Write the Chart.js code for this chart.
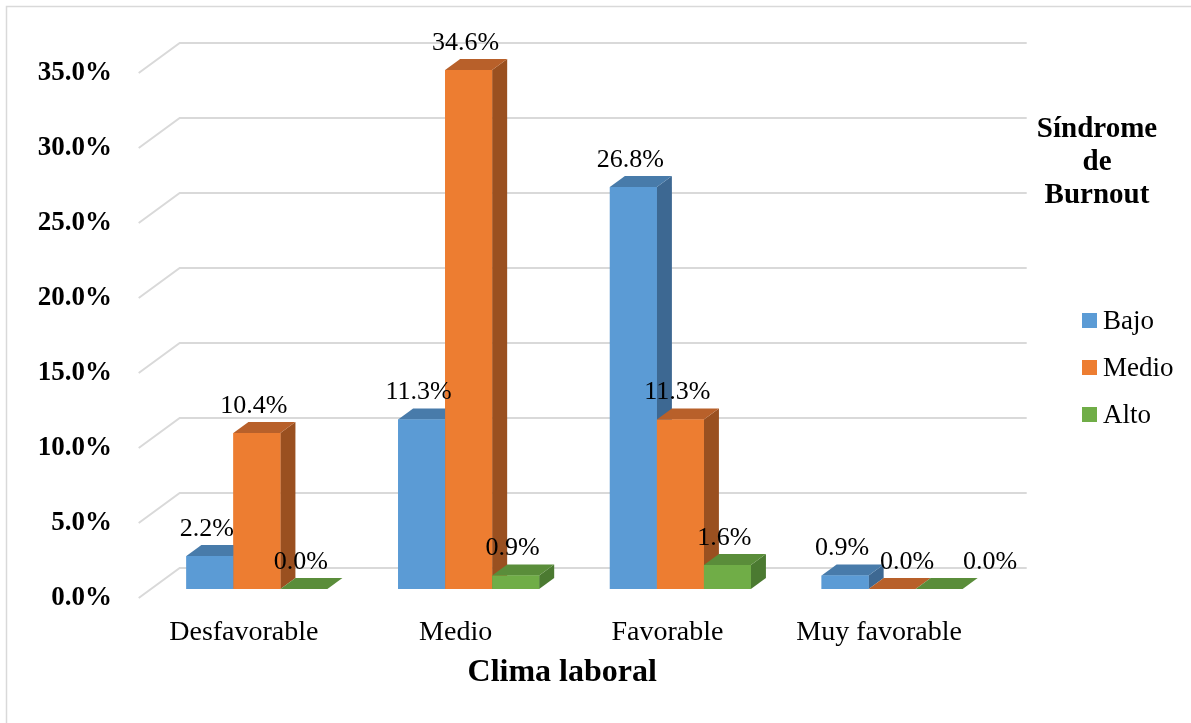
<!DOCTYPE html>
<html>
<head>
<meta charset="utf-8">
<title>Clima laboral y Síndrome de Burnout</title>
<script src="https://cdn.jsdelivr.net/npm/chart.js@4"></script>
<style>
  html, body { margin: 0; padding: 0; background: #ffffff; }
  #wrap { width: 1191px; height: 723px; position: relative; }
</style>
</head>
<body>
<div id="wrap"><canvas id="c" width="1191" height="723"></canvas></div>
<script>
// ---- data ----
const categories = ['Desfavorable', 'Medio', 'Favorable', 'Muy favorable'];
const seriesNames = ['Bajo', 'Medio', 'Alto'];
const bajo  = [2.2, 11.3, 26.8, 0.9];
const medio = [10.4, 34.6, 11.3, 0.0];
const alto  = [0.0, 0.9, 1.6, 0.0];
const yTicks = [0, 5, 10, 15, 20, 25, 30, 35];
const xTitle = 'Clima laboral';
const legendTitle = ['Síndrome', 'de', 'Burnout'];

// ---- style ----
const SERIF = '"Liberation Serif", "Times New Roman", serif';
const faceColors = [
  { front: '#5B9BD5', top: '#487BAA', side: '#3D6892' },
  { front: '#ED7D31', top: '#B8602A', side: '#9A5020' },
  { front: '#70AD47', top: '#5A8D3A', side: '#4B7A31' }
];
const SLOPE = 41 / 30;       // horizontal shift per pixel of depth
const FRONT_DEPTH = 9;       // floor edge in front of the bars
const BAR_DEPTH = 11;        // depth of each bar
const BACK_DEPTH = 21;       // back wall behind the bar fronts
const GRID_COLOR = '#D9D9D9';
const LABEL_RISE = 27;
const LABEL_SHIFT = -3;
const labelNudge = { '3|1': 18, '3|2': 54 };

const seriesValues = [bajo, medio, alto];

const depthPlugin = {
  id: 'depth3d',
  beforeDatasetsDraw(chart) {
    const { ctx, chartArea, scales } = chart;
    const ys = scales.y;
    ctx.save();
    // outer frame
    ctx.strokeStyle = GRID_COLOR;
    ctx.lineWidth = 1.5;
    ctx.beginPath();
    ctx.moveTo(6.5, 723);
    ctx.lineTo(6.5, 6.5);
    ctx.lineTo(1191, 6.5);
    ctx.stroke();
    // gridlines: floor edge -> back wall -> across
    ctx.lineWidth = 2;
    ctx.strokeStyle = GRID_COLOR;
    yTicks.forEach(v => {
      const py = ys.getPixelForValue(v);
      const fx = chartArea.left - FRONT_DEPTH * SLOPE;
      const fy = py + FRONT_DEPTH;
      const bx = chartArea.left + BACK_DEPTH * SLOPE;
      const by = py - BACK_DEPTH;
      const ex = chartArea.right + BACK_DEPTH * SLOPE;
      ctx.beginPath();
      ctx.moveTo(fx, fy);
      ctx.lineTo(bx, by);
      ctx.lineTo(ex, by);
      ctx.stroke();
    });
    ctx.restore();
  },
  afterDatasetsDraw(chart) {
    const { ctx, chartArea } = chart;
    const dx = BAR_DEPTH * SLOPE, dy = BAR_DEPTH;
    ctx.save();
    // bars, painted back-to-front: category by category, left to right
    categories.forEach((c, i) => {
      seriesValues.forEach((vals, d) => {
        const el = chart.getDatasetMeta(d).data[i];
        const { x, y, base, width } = el.getProps(['x', 'y', 'base', 'width'], true);
        const L = x - width / 2, R = x + width / 2;
        const col = faceColors[d];
        // side face
        if (base - y > 0.5) {
          ctx.fillStyle = col.side;
          ctx.beginPath();
          ctx.moveTo(R, y); ctx.lineTo(R + dx, y - dy);
          ctx.lineTo(R + dx, base - dy); ctx.lineTo(R, base);
          ctx.closePath(); ctx.fill();
        }
        // top face
        ctx.fillStyle = col.top;
        ctx.beginPath();
        ctx.moveTo(L, y); ctx.lineTo(R, y);
        ctx.lineTo(R + dx, y - dy); ctx.lineTo(L + dx, y - dy);
        ctx.closePath(); ctx.fill();
        // front face
        if (base - y > 0.5) {
          ctx.fillStyle = col.front;
          ctx.fillRect(L, y, R - L, base - y);
        }
      });
    });
    // value labels
    ctx.fillStyle = '#000000';
    ctx.font = '26px ' + SERIF;
    ctx.textAlign = 'center';
    ctx.textBaseline = 'middle';
    categories.forEach((c, i) => {
      seriesValues.forEach((vals, d) => {
        const el = chart.getDatasetMeta(d).data[i];
        const { x, y } = el.getProps(['x', 'y'], true);
        const nudge = labelNudge[i + '|' + d] || 0;
        ctx.fillText(vals[i].toFixed(1) + '%', x + LABEL_SHIFT + nudge, y - LABEL_RISE);
      });
    });
    // axis title, centred on the front edge of the floor
    const frontShift = FRONT_DEPTH * SLOPE;
    ctx.font = 'bold 32px ' + SERIF;
    ctx.fillText(xTitle, (chartArea.left + chartArea.right) / 2 - frontShift, 673);
    // legend
    ctx.font = 'bold 29px ' + SERIF;
    ctx.textBaseline = 'alphabetic';
    legendTitle.forEach((t, k) => ctx.fillText(t, 1097, 137 + k * 33));
    ctx.font = '27px ' + SERIF;
    ctx.textAlign = 'left';
    ctx.textBaseline = 'middle';
    seriesNames.forEach((n, k) => {
      const cy = 320.5 + k * 47;
      ctx.fillStyle = faceColors[k].front;
      ctx.fillRect(1082, cy - 7.5, 15, 15);
      ctx.fillStyle = '#000000';
      ctx.fillText(n, 1103, cy + 1);
    });
    ctx.restore();
  }
};

new Chart(document.getElementById('c'), {
  type: 'bar',
  data: {
    labels: categories,
    datasets: seriesNames.map((n, d) => ({
      label: n,
      data: seriesValues[d],
      backgroundColor: faceColors[d].front,
      borderWidth: 0,
      categoryPercentage: 0.666,
      barPercentage: 1.0
    }))
  },
  options: {
    responsive: false,
    animation: false,
    devicePixelRatio: 1,
    layout: { padding: { top: 64, right: 193, bottom: 0, left: 0 } },
    plugins: { legend: { display: false }, tooltip: { enabled: false } },
    scales: {
      x: {
        grid: { display: false, drawTicks: false },
        border: { display: false },
        ticks: {
          color: '#000000',
          font: { family: SERIF, size: 28 },
          padding: 27,
          labelOffset: -13,
          maxRotation: 0
        },
        afterFit: s => { s.height = 134; }
      },
      y: {
        min: 0,
        max: 35,
        grid: { display: false, drawTicks: false },
        border: { display: false },
        ticks: {
          stepSize: 5,
          color: '#000000',
          font: { family: SERIF, size: 27, weight: 'bold' },
          padding: 39,
          labelOffset: 9,
          callback: v => Number(v).toFixed(1) + '%'
        },
        afterFit: s => { s.width = 151; }
      }
    }
  },
  plugins: [depthPlugin]
});
</script>
</body>
</html>
